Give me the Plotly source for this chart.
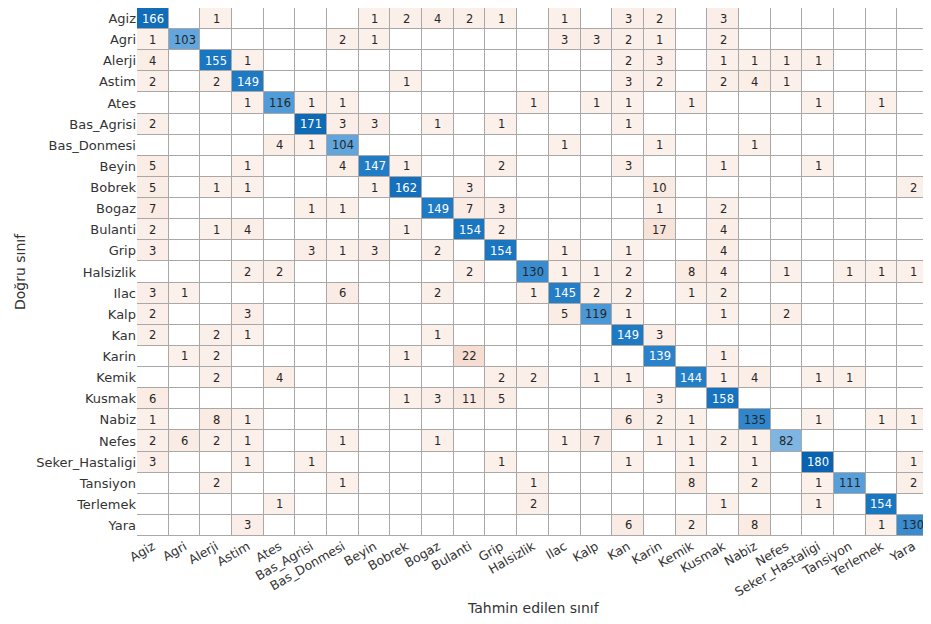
import plotly.graph_objects as go

classes = ["Agiz", "Agri", "Alerji", "Astim", "Ates", "Bas_Agrisi", "Bas_Donmesi", "Beyin",
           "Bobrek", "Bogaz", "Bulanti", "Grip", "Halsizlik", "Ilac", "Kalp", "Kan", "Karin",
           "Kemik", "Kusmak", "Nabiz", "Nefes", "Seker_Hastaligi", "Tansiyon", "Terlemek", "Yara"]

# rows = true class, columns = predicted class (sparse: {col_index: count})
row_Agiz = {0: 166, 2: 1, 7: 1, 8: 2, 9: 4, 10: 2, 11: 1, 13: 1, 15: 3, 16: 2, 18: 3}
row_Agri = {0: 1, 1: 103, 6: 2, 7: 1, 13: 3, 14: 3, 15: 2, 16: 1, 18: 2}
row_Alerji = {0: 4, 2: 155, 3: 1, 15: 2, 16: 3, 18: 1, 19: 1, 20: 1, 21: 1}
row_Astim = {0: 2, 2: 2, 3: 149, 8: 1, 15: 3, 16: 2, 18: 2, 19: 4, 20: 1}
row_Ates = {3: 1, 4: 116, 5: 1, 6: 1, 12: 1, 14: 1, 15: 1, 17: 1, 21: 1, 23: 1}
row_Bas_Agrisi = {0: 2, 5: 171, 6: 3, 7: 3, 9: 1, 11: 1, 15: 1}
row_Bas_Donmesi = {4: 4, 5: 1, 6: 104, 13: 1, 16: 1, 19: 1}
row_Beyin = {0: 5, 3: 1, 6: 4, 7: 147, 8: 1, 11: 2, 15: 3, 18: 1, 21: 1}
row_Bobrek = {0: 5, 2: 1, 3: 1, 7: 1, 8: 162, 10: 3, 16: 10, 24: 2}
row_Bogaz = {0: 7, 5: 1, 6: 1, 9: 149, 10: 7, 11: 3, 16: 1, 18: 2}
row_Bulanti = {0: 2, 2: 1, 3: 4, 8: 1, 10: 154, 11: 2, 16: 17, 18: 4}
row_Grip = {0: 3, 5: 3, 6: 1, 7: 3, 9: 2, 11: 154, 13: 1, 15: 1, 18: 4}
row_Halsizlik = {3: 2, 4: 2, 10: 2, 12: 130, 13: 1, 14: 1, 15: 2, 17: 8, 18: 4, 20: 1, 22: 1, 23: 1, 24: 1}
row_Ilac = {0: 3, 1: 1, 6: 6, 9: 2, 12: 1, 13: 145, 14: 2, 15: 2, 17: 1, 18: 2}
row_Kalp = {0: 2, 3: 3, 13: 5, 14: 119, 15: 1, 18: 1, 20: 2}
row_Kan = {0: 2, 2: 2, 3: 1, 9: 1, 15: 149, 16: 3}
row_Karin = {1: 1, 2: 2, 8: 1, 10: 22, 16: 139, 18: 1}
row_Kemik = {2: 2, 4: 4, 11: 2, 12: 2, 14: 1, 15: 1, 17: 144, 18: 1, 19: 4, 21: 1, 22: 1}
row_Kusmak = {0: 6, 8: 1, 9: 3, 10: 11, 11: 5, 16: 3, 18: 158}
row_Nabiz = {0: 1, 2: 8, 3: 1, 15: 6, 16: 2, 17: 1, 19: 135, 21: 1, 23: 1, 24: 1}
row_Nefes = {0: 2, 1: 6, 2: 2, 3: 1, 6: 1, 9: 1, 13: 1, 14: 7, 16: 1, 17: 1, 18: 2, 19: 1, 20: 82}
row_Seker_Hastaligi = {0: 3, 3: 1, 5: 1, 11: 1, 15: 1, 17: 1, 19: 1, 21: 180, 24: 1}
row_Tansiyon = {2: 2, 6: 1, 12: 1, 17: 8, 19: 2, 21: 1, 22: 111, 24: 2}
row_Terlemek = {4: 1, 12: 2, 18: 1, 21: 1, 23: 154}
row_Yara = {3: 3, 15: 6, 17: 2, 19: 8, 23: 1, 24: 130}

rows = [row_Agiz, row_Agri, row_Alerji, row_Astim, row_Ates, row_Bas_Agrisi, row_Bas_Donmesi,
        row_Beyin, row_Bobrek, row_Bogaz, row_Bulanti, row_Grip, row_Halsizlik, row_Ilac,
        row_Kalp, row_Kan, row_Karin, row_Kemik, row_Kusmak, row_Nabiz, row_Nefes,
        row_Seker_Hastaligi, row_Tansiyon, row_Terlemek, row_Yara]

n = len(classes)
z = [[r.get(j, 0) for j in range(n)] for r in rows]

colorscale = [
    [0.0, "#ffffff"],
    [0.003, "#fbf0ea"],
    [0.06, "#f9e9e1"],
    [0.13, "#f6dccf"],
    [0.35, "#b4d5ef"],
    [0.45, "#7fb6e2"],
    [0.57, "#63a6dd"],
    [0.65, "#4f9ad8"],
    [0.75, "#2f86cc"],
    [0.85, "#1a77c2"],
    [1.0, "#0963b0"],
]

fig = go.Figure(go.Heatmap(
    z=z, x=classes, y=classes, colorscale=colorscale, zmin=0, zmax=180,
    showscale=False, xgap=1, ygap=1, hoverinfo="skip",
))

annotations = []
for i, r in enumerate(rows):
    for j, v in r.items():
        annotations.append(dict(
            x=classes[j], y=classes[i], text=str(v), showarrow=False,
            font=dict(family="DejaVu Sans", size=11.5,
                      color="#ffffff" if v >= 137 else "#262626"),
        ))

annotations.append(dict(
    text="Tahmin edilen sınıf", xref="paper", yref="paper", x=0.5, y=0,
    xanchor="center", yanchor="top", yshift=-62, showarrow=False,
    font=dict(family="DejaVu Sans", size=14, color="#333333"),
))
annotations.append(dict(
    text="Doğru sınıf", xref="paper", yref="paper", x=0, y=0.5,
    xanchor="center", yanchor="middle", xshift=-117, textangle=-90, showarrow=False,
    font=dict(family="DejaVu Sans", size=14, color="#333333"),
))

# page body has an 8px default margin, so the figure is sized to fit the 931x624 window
fig.update_layout(
    width=921, height=616,
    margin=dict(l=129, r=0, t=0, b=88, autoexpand=False),
    paper_bgcolor="white", plot_bgcolor="#a8a8a8",
    annotations=annotations,
    font=dict(family="DejaVu Sans", color="#333333", size=13),
    xaxis=dict(tickangle=-30, showgrid=False, zeroline=False, ticks="", automargin=False,
               tickfont=dict(size=12.5, color="#333333")),
    yaxis=dict(autorange="reversed", showgrid=False, zeroline=False, ticks="", automargin=False,
               tickfont=dict(size=13, color="#333333")),
)

fig.write_html("out.html")
